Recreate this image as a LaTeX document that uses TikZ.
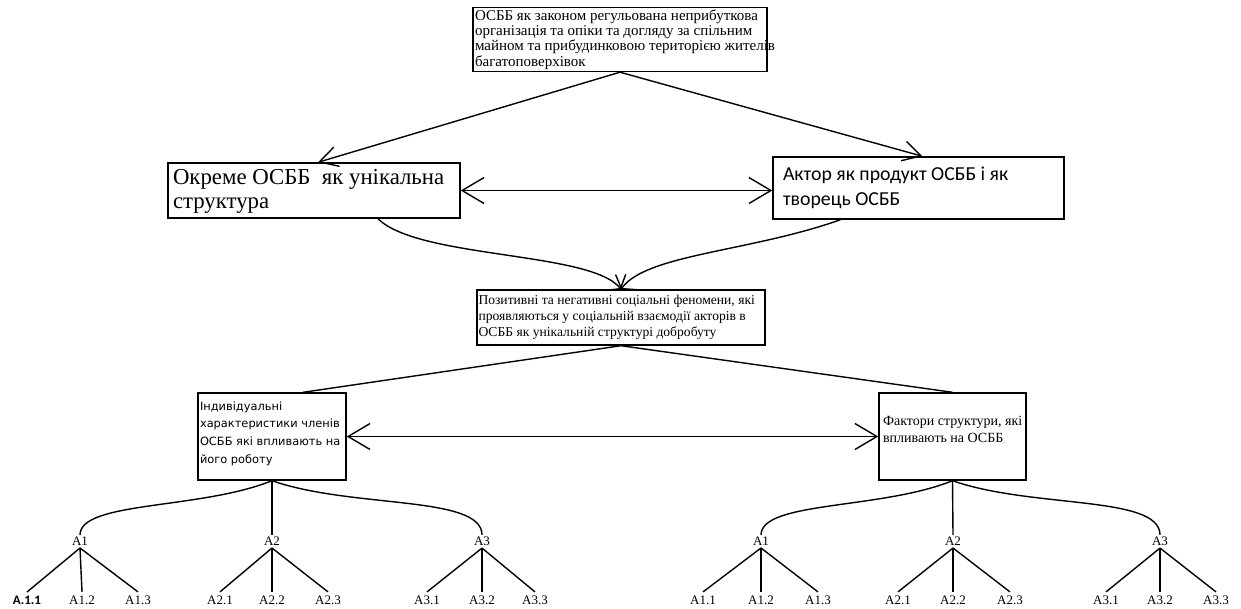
\documentclass[tikz,border=0pt]{standalone}
\usepackage{fontspec}
\setmainfont{Liberation Serif}
\newfontfamily\calfont{Carlito}
\newfontfamily\dejafont{DejaVu Sans}
\usetikzlibrary{arrows.meta}
\begin{document}
\begin{tikzpicture}[x=1pt,y=-1pt,line width=1.4pt,
  box/.style={draw,line width=1.4pt,inner sep=0pt},
  txt/.style={inner sep=0pt,align=left,anchor=west},
  barb/.style={-{Straight Barb[length=18pt,width=20pt]}},
  cbarb/.style={-{Straight Barb[length=8pt,width=26pt]}},
  dbarb/.style={{Straight Barb[length=22pt,width=26pt]}-{Straight Barb[length=22pt,width=26pt]}},
  lbl/.style={inner sep=1pt,font=\fontsize{13}{15}\selectfont}
]
\useasboundingbox (0,0) rectangle (1241,608);
\fill[white] (0,0) rectangle (1241,608);

% boxes
\node[box,minimum width=294pt,minimum height=64pt] (top) at (620,39.5) {};
\node[txt,font=\fontsize{15}{15.3}\selectfont] (toptext) at ([xshift=2pt]top.west)
  {ОСББ як законом регульована неприбуткова\\організація та опіки та догляду за спільним\\майном та прибудинковою територією жителів\\багатоповерхівок};

\node[box,minimum width=292pt,minimum height=55pt] (lbox) at (314,190.5) {};
\node[txt,font=\fontsize{22.8}{24}\selectfont] (lboxtext) at ([xshift=5pt,yshift=-1pt]lbox.west)
  {Окреме ОСББ \ як унікальна\\структура};

\node[box,minimum width=291pt,minimum height=62pt] (rbox) at (918.5,188) {};
\node[txt,font=\calfont\fontsize{19.8}{25}\selectfont] (rboxtext) at ([xshift=10pt]rbox.west)
  {Актор як продукт ОСББ і як\\творець ОСББ};

\node[box,minimum width=288pt,minimum height=55pt] (mid) at (621,317.5) {};
\node[txt,font=\fontsize{13.6}{15.8}\selectfont] (midtext) at ([xshift=1.5pt]mid.west)
  {Позитивні та негативні соціальні феномени, які\\проявляються у соціальній взаємодії акторів в\\ОСББ як унікальній структурі добробуту};

\node[box,minimum width=148pt,minimum height=87pt] (lfac) at (272,436.5) {};
\node[txt,font=\dejafont\fontsize{11.4}{17.6}\selectfont] (lfactext) at ([xshift=2pt,yshift=3pt]lfac.west)
  {Індивідуальні\\характеристики членів\\ОСББ які впливають на\\його роботу};

\node[box,minimum width=147pt,minimum height=87pt] (rfac) at (952.5,436.5) {};
\node[txt,font=\fontsize{14}{17}\selectfont] (rfactext) at ([xshift=4pt,yshift=7pt]rfac.west)
  {Фактори структури, які\\впливають на ОСББ};

% upper connectors
\draw[barb] (top.south) -- ([xshift=4pt]lbox.north);
\draw[barb] (top.south) -- ([xshift=4pt]rbox.north);
\draw[dbarb] (lbox.east) -- (lbox.east -| rbox.west);
\draw[cbarb] ([xshift=64pt]lbox.south) .. controls +(40,40) and +(-30,-38) .. (mid.north);
\draw[cbarb] ([xshift=-78pt]rbox.south) .. controls +(-90,32) and +(25,-35) .. (mid.north);

% middle connectors
\draw (mid.south) -- ([xshift=31pt]lfac.north);
\draw (mid.south) -- (rfac.north);
\draw[dbarb] (lfac.east) -- (rfac.west);

% left tree
\node[lbl] (la1) at (80,541) {A1};
\node[lbl] (la2) at (272,541) {A2};
\node[lbl] (la3) at (482,541) {A3};
\node[lbl,font=\calfont\bfseries\fontsize{13}{15}\selectfont] (la11) at (27,600) {A.1.1};
\node[lbl] (la12) at (82,600) {A1.2};
\node[lbl] (la13) at (138,600) {A1.3};
\node[lbl] (la21) at (220,600) {A2.1};
\node[lbl] (la22) at (272,600) {A2.2};
\node[lbl] (la23) at (328,600) {A2.3};
\node[lbl] (la31) at (427,600) {A3.1};
\node[lbl] (la32) at (482,600) {A3.2};
\node[lbl] (la33) at (535,600) {A3.3};
\draw (lfac.south) .. controls +(-72,29) and +(0,-34) .. (la1.north);
\draw (lfac.south) -- (la2.north);
\draw (lfac.south) .. controls +(80,28) and +(0,-40) .. (la3.north);
\foreach \p/\c in {la1/la11,la1/la12,la1/la13,la2/la21,la2/la22,la2/la23,la3/la31,la3/la32,la3/la33}
  \draw ([yshift=-1pt]\p.south) -- ([yshift=2pt]\c.north);

% right tree
\node[lbl] (ra1) at (761,541) {A1};
\node[lbl] (ra2) at (953,541) {A2};
\node[lbl] (ra3) at (1160,541) {A3};
\node[lbl] (ra11) at (703,600) {A1.1};
\node[lbl] (ra12) at (761,600) {A1.2};
\node[lbl] (ra13) at (818,600) {A1.3};
\node[lbl] (ra21) at (898,600) {A2.1};
\node[lbl] (ra22) at (953,600) {A2.2};
\node[lbl] (ra23) at (1010,600) {A2.3};
\node[lbl] (ra31) at (1106,600) {A3.1};
\node[lbl] (ra32) at (1160,600) {A3.2};
\node[lbl] (ra33) at (1216,600) {A3.3};
\draw (rfac.south) .. controls +(-72,29) and +(0,-34) .. (ra1.north);
\draw (rfac.south) -- (ra2.north);
\draw (rfac.south) .. controls +(80,28) and +(0,-40) .. (ra3.north);
\foreach \p/\c in {ra1/ra11,ra1/ra12,ra1/ra13,ra2/ra21,ra2/ra22,ra2/ra23,ra3/ra31,ra3/ra32,ra3/ra33}
  \draw ([yshift=-1pt]\p.south) -- ([yshift=2pt]\c.north);
\end{tikzpicture}
\end{document}
